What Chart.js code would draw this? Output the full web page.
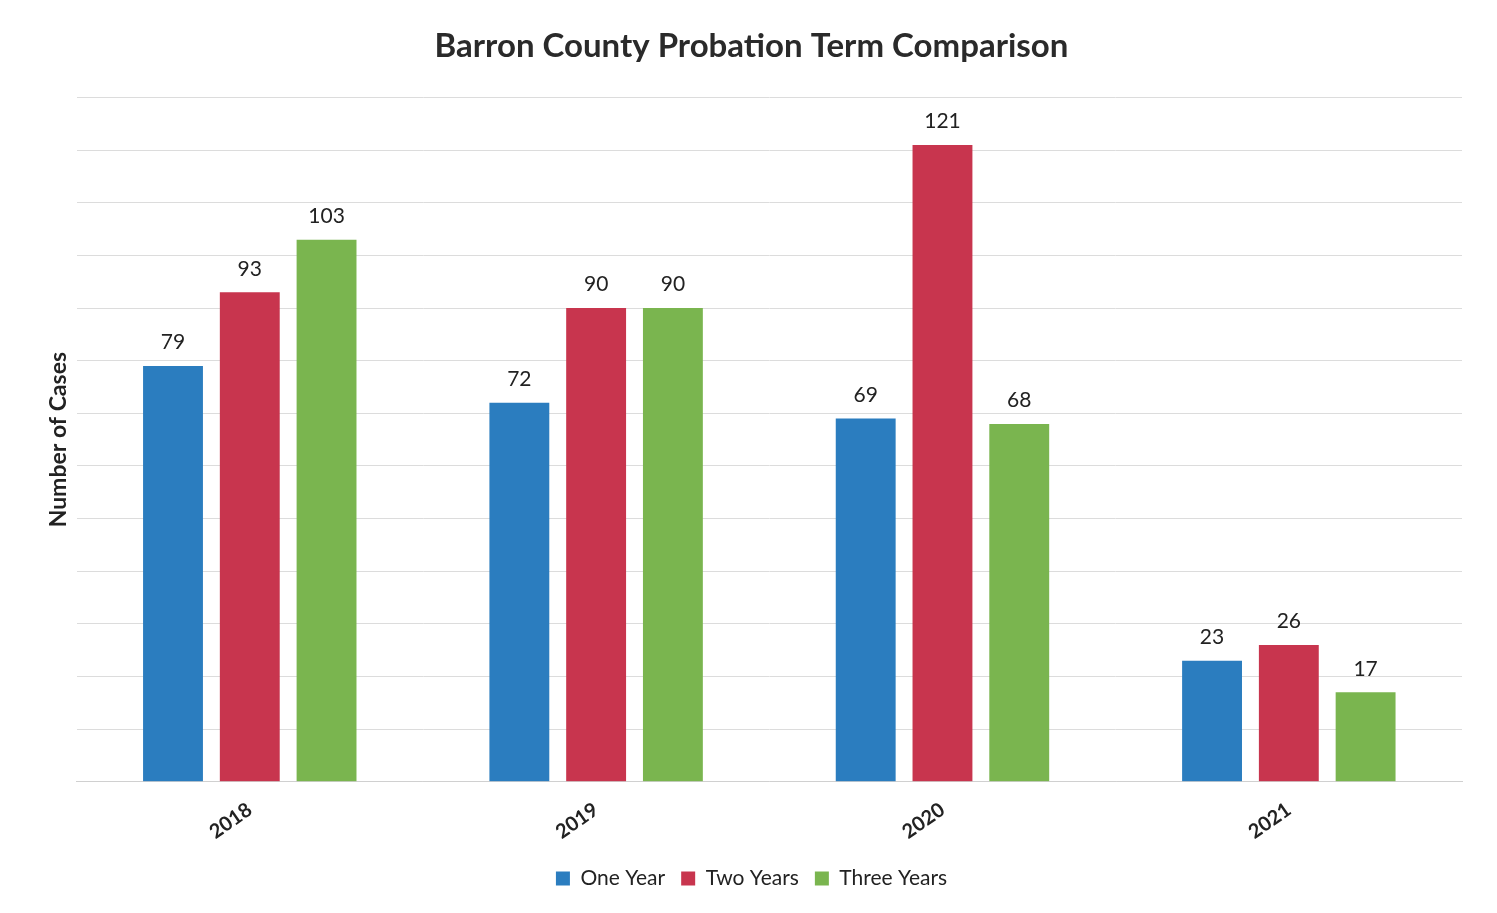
<!DOCTYPE html>
<html>
<head>
<meta charset="utf-8">
<script src="https://cdn.jsdelivr.net/npm/chart.js"></script>
<style>
  html, body { margin: 0; padding: 0; background: #ffffff; }
  #wrap { width: 1497px; height: 913px; position: relative; }
</style>
</head>
<body>
<div id="wrap"><canvas id="myChart"></canvas></div>
<script>
// values
const years = ['2018', '2019', '2020', '2021'];
const oneYear = [79, 72, 69, 23];
const twoYears = [93, 90, 121, 26];
const threeYears = [103, 90, 68, 17];

const FONT = 'Lato, "Open Sans", sans-serif';

// draws the number above each bar
const barValues = {
    id: 'barValues',
    afterDatasetsDraw(chart) {
        const ctx = chart.ctx;
        ctx.save();
        ctx.font = '21px ' + FONT;
        ctx.fillStyle = '#222222';
        ctx.textAlign = 'center';
        ctx.textBaseline = 'bottom';
        chart.data.datasets.forEach((ds, i) => {
            chart.getDatasetMeta(i).data.forEach((bar, j) => {
                ctx.fillText(ds.data[j], bar.x, bar.y - 13);
            });
        });
        ctx.restore();
    }
};

new Chart(document.getElementById('myChart'), {
    type: 'bar',
    data: {
        labels: years,
        datasets: [
            { label: 'One Year', data: oneYear, backgroundColor: '#2b7dbf' },
            { label: 'Two Years', data: twoYears, backgroundColor: '#c8354e' },
            { label: 'Three Years', data: threeYears, backgroundColor: '#7ab54f' }
        ]
    },
    plugins: [barValues],
    options: {
        responsive: true,
        maintainAspectRatio: false,
        animation: false,
        layout: { padding: { left: 41, right: 35, top: 20, bottom: 14 } },
        datasets: { bar: { categoryPercentage: 0.665, barPercentage: 0.78 } },
        scales: {
            x: {
                grid: { display: false },
                border: { color: '#d0d0d0' },
                ticks: {
                    minRotation: 35, maxRotation: 35,
                    padding: 8,
                    color: '#222222',
                    font: { family: FONT, size: 20, weight: 'bold' }
                }
            },
            y: {
                min: 0, max: 130,
                ticks: { display: false, stepSize: 10 },
                grid: { color: '#dcdcdc', drawTicks: false },
                border: { display: false },
                title: {
                    display: true,
                    text: 'Number of Cases',
                    color: '#222222',
                    font: { family: FONT, size: 23, weight: 'bold' }
                }
            }
        },
        plugins: {
            title: {
                display: true,
                text: 'Barron County Probation Term Comparison',
                color: '#2a2a2a',
                font: { family: FONT, size: 33, weight: 'bold' },
                padding: { top: 7, bottom: 31 }
            },
            legend: {
                position: 'bottom',
                labels: {
                    boxWidth: 14, boxHeight: 14,
                    color: '#222222',
                    padding: 16,
                    font: { family: FONT, size: 21 }
                }
            },
            tooltip: { enabled: false }
        }
    }
});
</script>
</body>
</html>
